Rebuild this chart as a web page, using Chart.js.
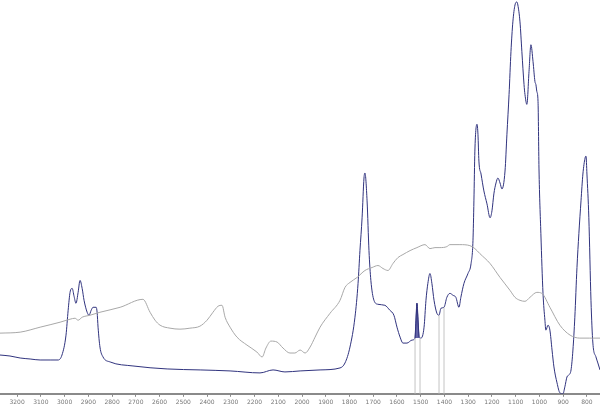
<!DOCTYPE html>
<html>
<head>
<meta charset="utf-8">
<script src="https://cdn.jsdelivr.net/npm/chart.js@4/dist/chart.umd.min.js"></script>
<style>
  body { margin: 0; background: #fff; }
  canvas { display: block; }
</style>
</head>
<body>
<canvas id="spectrum" width="600" height="408"></canvas>
<script>
// wavenumbers (cm-1) and intensities (arbitrary units)
const sampleWn = [3272, 3230, 3187, 3145, 3103, 3061, 3027, 3011, 2994, 2985, 2977, 2968, 2960, 2952, 2943, 2935, 2926, 2918, 2905, 2897, 2888, 2880, 2867, 2863, 2859, 2851, 2838, 2808, 2712, 2568, 2429, 2303, 2177, 2122, 2072, 2008, 1924, 1840, 1819, 1798, 1777, 1764, 1756, 1747, 1739, 1735, 1726, 1718, 1710, 1697, 1680, 1651, 1630, 1613, 1600, 1587, 1575, 1558, 1537, 1524, 1516, 1507, 1499, 1486, 1478, 1470, 1461, 1453, 1444, 1432, 1423, 1415, 1402, 1390, 1377, 1364, 1352, 1339, 1331, 1318, 1301, 1288, 1280, 1276, 1272, 1263, 1259, 1255, 1246, 1234, 1221, 1208, 1200, 1192, 1183, 1175, 1166, 1158, 1145, 1137, 1128, 1120, 1112, 1103, 1095, 1091, 1082, 1074, 1065, 1061, 1053, 1044, 1036, 1027, 1019, 1015, 1011, 1006, 1002, 994, 985, 977, 973, 964, 956, 947, 939, 926, 914, 901, 893, 884, 876, 867, 859, 851, 842, 834, 825, 817, 808, 804, 800, 792, 783, 775, 762, 754, 745];
const sampleInt = [39, 38, 36, 35, 34, 34, 34, 39, 59, 84, 102, 106, 98, 91, 102, 114, 106, 94, 82, 79, 84, 87, 87, 82, 67, 47, 37, 32, 28, 25, 24, 23, 21, 24, 22, 23, 24, 26, 31, 47, 77, 111, 144, 177, 217, 222, 194, 144, 114, 94, 90, 89, 84, 79, 67, 57, 51, 51, 54, 56, 91, 57, 56, 67, 94, 111, 121, 111, 94, 81, 79, 86, 87, 97, 101, 99, 97, 87, 97, 111, 121, 131, 154, 194, 244, 271, 261, 234, 221, 204, 191, 177, 184, 201, 212, 217, 212, 206, 224, 261, 301, 344, 374, 391, 394, 391, 374, 344, 311, 301, 291, 324, 351, 334, 314, 311, 304, 294, 227, 161, 101, 74, 64, 69, 64, 44, 27, 11, 1, 0, 7, 17, 19, 24, 44, 77, 127, 161, 194, 221, 237, 239, 221, 177, 94, 51, 37, 31, 24];

const refWn = [3272, 3187, 3103, 3019, 2977, 2956, 2943, 2926, 2893, 2851, 2766, 2670, 2640, 2619, 2598, 2556, 2514, 2472, 2430, 2400, 2375, 2354, 2337, 2324, 2303, 2274, 2232, 2190, 2168, 2152, 2131, 2105, 2080, 2051, 2030, 2008, 1987, 1966, 1945, 1924, 1882, 1840, 1819, 1798, 1768, 1735, 1705, 1680, 1659, 1638, 1617, 1596, 1575, 1545, 1516, 1482, 1461, 1440, 1419, 1390, 1377, 1335, 1293, 1272, 1251, 1208, 1166, 1124, 1103, 1082, 1061, 1040, 1011, 990, 956, 914, 871, 830, 788, 745];
const refInt = [61, 62, 67, 72, 75, 76, 74, 77, 79, 82, 87, 95, 82, 74, 69, 66, 65, 66, 68, 74, 82, 88, 89, 77, 67, 57, 49, 42, 37, 46, 53, 52, 46, 41, 41, 44, 41, 47, 57, 67, 81, 94, 107, 112, 117, 124, 127, 129, 126, 124, 131, 137, 140, 144, 147, 150, 146, 147, 147, 148, 150, 150, 149, 146, 141, 131, 117, 104, 97, 94, 93, 97, 102, 101, 87, 69, 59, 56, 56, 56];

// integrated band (shaded) and the marker lines under the curve
const bandWn = [1524, 1516, 1507];
const bandInt = [56, 91, 57];
const markerWn = [1524, 1503, 1423, 1402];
const markerTop = [56, 56, 79, 87];

const tickLabels = [3200, 3100, 3000, 2900, 2800, 2700, 2600, 2500, 2400, 2300, 2200, 2100, 2000, 1900, 1800, 1700, 1600, 1500, 1400, 1300, 1200, 1100, 1000, 900, 800];

function toPoints(xs, ys) {
    return xs.map((x, i) => ({ x: x, y: ys[i] }));
}

const datasets = [];

markerWn.forEach((wn, i) => {
    datasets.push({
        data: [{ x: wn, y: 0 }, { x: wn, y: markerTop[i] }],
        borderColor: '#c4c4c4',
        borderWidth: 1,
        pointRadius: 0
    });
});

datasets.push({
    data: toPoints(refWn, refInt),
    borderColor: '#a8a8a8',
    borderWidth: 1,
    pointRadius: 0,
    cubicInterpolationMode: 'monotone'
});

datasets.push({
    data: toPoints(bandWn, bandInt),
    borderColor: '#34367f',
    backgroundColor: 'rgba(70, 70, 150, 0.85)',
    borderWidth: 1,
    pointRadius: 0,
    fill: { value: 56 }
});

datasets.push({
    data: toPoints(sampleWn, sampleInt),
    borderColor: '#30337e',
    borderWidth: 1,
    pointRadius: 0,
    cubicInterpolationMode: 'monotone'
});

new Chart(document.getElementById('spectrum'), {
    type: 'line',
    data: { datasets: datasets },
    options: {
        responsive: false,
        animation: false,
        layout: { padding: 0 },
        plugins: {
            legend: { display: false },
            tooltip: { enabled: false }
        },
        scales: {
            x: {
                type: 'linear',
                reverse: true,
                min: 745,
                max: 3272,
                afterBuildTicks: axis => {
                    axis.ticks = tickLabels.map(v => ({ value: v }));
                },
                grid: {
                    drawOnChartArea: false,
                    drawTicks: true,
                    tickLength: 3,
                    color: '#8a8a8a'
                },
                border: { color: '#8a8a8a', width: 2 },
                ticks: {
                    autoSkip: false,
                    maxRotation: 0,
                    padding: 2,
                    color: '#777',
                    font: { family: 'DejaVu Sans', size: 6 },
                    callback: v => String(v)
                }
            },
            y: {
                display: false,
                min: 0,
                max: 396
            }
        }
    }
});
</script>
</body>
</html>
